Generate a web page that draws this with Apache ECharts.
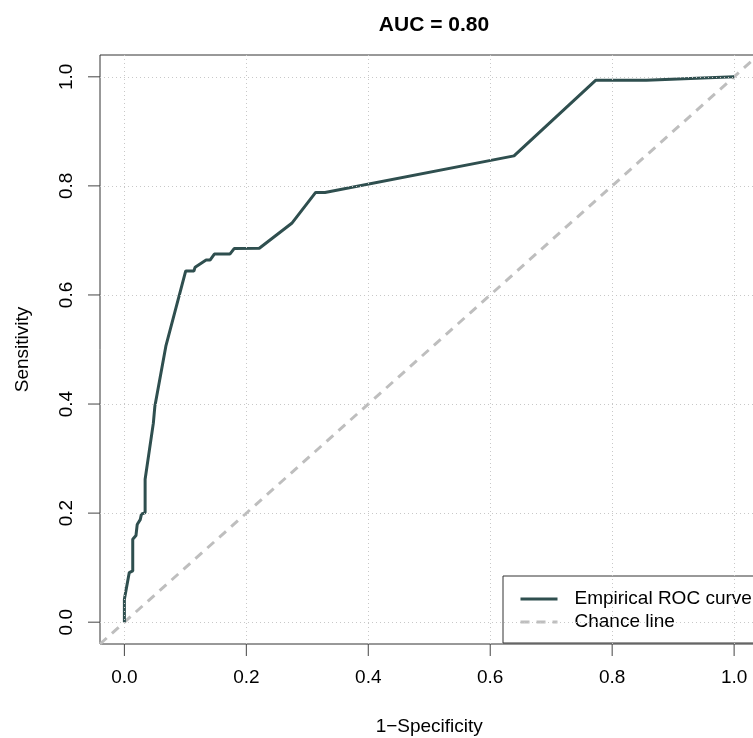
<!DOCTYPE html>
<html>
<head>
<meta charset="utf-8">
<script src="https://cdn.jsdelivr.net/npm/echarts@6/dist/echarts.min.js"></script>
<style>
html,body{margin:0;padding:0;background:#fff;}
#chart{width:753px;height:738px;}
</style>
</head>
<body>
<div id="chart"></div>
<script>
// ROC curve points (1 - specificity, sensitivity)
const rocFpr = [0, 0, 0.008, 0.0137, 0.0137, 0.019, 0.021, 0.021, 0.026, 0.028, 0.034, 0.034, 0.0475, 0.050, 0.068, 0.1006, 0.114, 0.116, 0.134, 0.1405, 0.1475, 0.173, 0.180, 0.2213, 0.2745, 0.3137, 0.329, 0.639, 0.7728, 0.856, 1.0];
const rocTpr = [0, 0.042, 0.091, 0.094, 0.152, 0.159, 0.162, 0.179, 0.188, 0.198, 0.201, 0.262, 0.365, 0.396, 0.506, 0.644, 0.644, 0.651, 0.664, 0.664, 0.675, 0.675, 0.685, 0.6856, 0.7314, 0.788, 0.788, 0.855, 0.9936, 0.9936, 1.0];
const chanceX = [-0.04, 1.04];
const chanceY = [-0.04, 1.04];
const tickValues = [0, 0.2, 0.4, 0.6, 0.8, 1.0];
const axisMin = -0.04;
const axisMax = 1.04;
const titleText = 'AUC = 0.80';
const xName = '1\u2212Specificity';
const yName = 'Sensitivity';
const rocName = 'Empirical ROC curve';
const chanceName = 'Chance line';

const FONT = 'Liberation Sans, Arial, sans-serif';
const TICK_LEN = 12;
const rocData = rocFpr.map((x, i) => [x, rocTpr[i]]);
const chanceData = chanceX.map((x, i) => [x, chanceY[i]]);
const gridLines = tickValues.map(v => ({xAxis: v})).concat(tickValues.map(v => ({yAxis: v})));
const xTickData = tickValues.map(v => [v, axisMin]);
const yTickData = tickValues.map(v => [axisMin, v]);

function tickRenderer(dir) {
  return function (params, api) {
    const p = api.coord([api.value(0), api.value(1)]);
    const end = dir === 'x' ? [p[0], p[1] + TICK_LEN] : [p[0] - TICK_LEN, p[1]];
    return {
      type: 'line',
      shape: {x1: p[0], y1: p[1], x2: end[0], y2: end[1]},
      style: {stroke: '#444', lineWidth: 1}
    };
  };
}

const chart = echarts.init(document.getElementById('chart'), null, {renderer: 'canvas'});
chart.setOption({
  animation: false,
  backgroundColor: '#ffffff',
  textStyle: {fontFamily: FONT},
  title: {
    text: titleText,
    left: 429, top: 10, textAlign: 'center',
    textStyle: {fontFamily: FONT, fontSize: 21, fontWeight: 'bold', color: '#000'}
  },
  grid: {
    left: 100, top: 55, width: 658.5, height: 589,
    show: true, borderColor: '#333', borderWidth: 1,
    containLabel: false, outerBoundsMode: 'none'
  },
  xAxis: {
    type: 'value', min: axisMin, max: axisMax, position: 'bottom',
    name: xName, nameLocation: 'middle', nameGap: 73,
    nameTextStyle: {fontFamily: FONT, fontSize: 19, color: '#000'},
    axisLine: {show: false, onZero: false},
    axisTick: {show: false},
    axisLabel: {show: true, customValues: tickValues, margin: 24, fontSize: 19, color: '#000', fontFamily: FONT,
      formatter: v => v.toFixed(1)},
    splitLine: {show: false}
  },
  yAxis: {
    type: 'value', min: axisMin, max: axisMax, position: 'left',
    name: yName, nameLocation: 'middle', nameGap: 68,
    nameTextStyle: {fontFamily: FONT, fontSize: 19, color: '#000'},
    axisLine: {show: false, onZero: false},
    axisTick: {show: false},
    axisLabel: {show: true, customValues: tickValues, margin: 24, rotate: 90, fontSize: 19, color: '#000', fontFamily: FONT,
      formatter: v => v.toFixed(1)},
    splitLine: {show: false}
  },
  legend: {
    data: [rocName, chanceName],
    orient: 'vertical',
    left: 503, top: 576,
    padding: [13, 30, 11, 16],
    itemGap: 3,
    itemWidth: 37, itemHeight: 14,
    borderColor: '#333', borderWidth: 1,
    backgroundColor: '#fff',
    itemStyle: {opacity: 0},
    lineStyle: {width: 3},
    textStyle: {fontFamily: FONT, fontSize: 19, lineHeight: 20, color: '#000', padding: [0, 0, 0, 12]}
  },
  series: [
    {
      name: 'grid', type: 'line', data: [], z: 1, silent: true,
      markLine: {
        silent: true, symbol: ['none', 'none'], label: {show: false},
        lineStyle: {color: '#c8c8c8', type: [1, 3], width: 1},
        data: gridLines, animation: false
      }
    },
    {
      name: 'xTicks', type: 'custom', data: xTickData, renderItem: tickRenderer('x'),
      clip: false, silent: true, z: 5
    },
    {
      name: 'yTicks', type: 'custom', data: yTickData, renderItem: tickRenderer('y'),
      clip: false, silent: true, z: 5
    },
    {
      name: chanceName, type: 'line', data: chanceData, showSymbol: false, symbol: 'none',
      lineStyle: {color: '#bebebe', width: 3, type: [9, 7]}, itemStyle: {color: '#bebebe'}, z: 2
    },
    {
      name: rocName, type: 'line', data: rocData, showSymbol: false, symbol: 'none',
      lineStyle: {color: '#2F4F4F', width: 3}, itemStyle: {color: '#2F4F4F'}, z: 3
    }
  ]
});
</script>
</body>
</html>
